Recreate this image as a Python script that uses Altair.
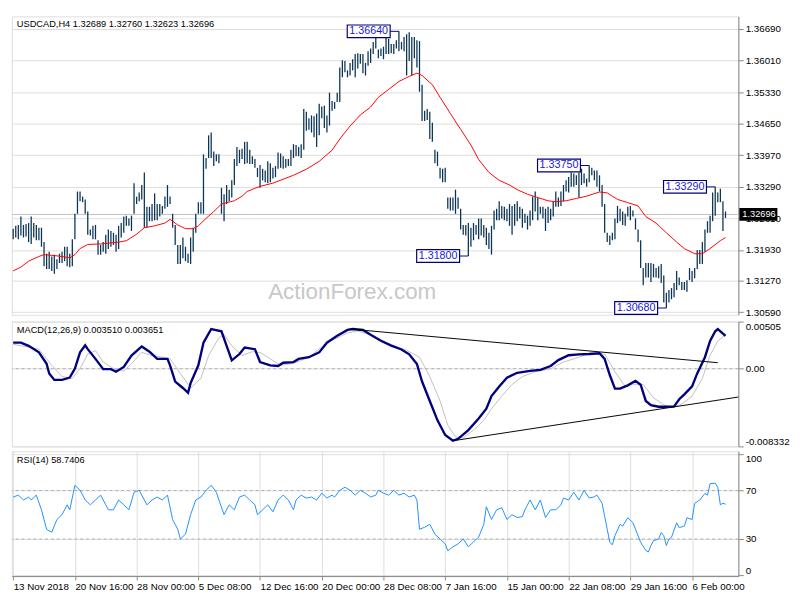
import json
import altair as alt
import pandas as pd

FONT = "Liberation Sans"
W, H1, H2, H3 = 745, 306, 128, 128

# ---------------- data ----------------
bar_high = [
    1.3239, 1.3245, 1.3247, 1.3265, 1.3247, 1.3249, 1.3251, 1.3265, 1.3251, 1.3247, 1.3241, 1.3241,
    1.3210, 1.3185, 1.3189, 1.3179, 1.3183, 1.3173, 1.3185, 1.3189, 1.3200, 1.3200, 1.3185, 1.3216,
    1.3271, 1.3319, 1.3319, 1.3308, 1.3302, 1.3276, 1.3237, 1.3245, 1.3247, 1.3214, 1.3204, 1.3210,
    1.3226, 1.3237, 1.3234, 1.3230, 1.3226, 1.3245, 1.3251, 1.3265, 1.3267, 1.3261, 1.3267, 1.3337,
    1.3308, 1.3317, 1.3333, 1.3360, 1.3286, 1.3286, 1.3292, 1.3315, 1.3292, 1.3292, 1.3288, 1.3308,
    1.3333, 1.3308, 1.3271, 1.3247, 1.3204, 1.3204, 1.3220, 1.3200, 1.3185, 1.3220, 1.3241, 1.3271,
    1.3296, 1.3296, 1.3399, 1.3391, 1.3440, 1.3446, 1.3405, 1.3399, 1.3399, 1.3327, 1.3313, 1.3333,
    1.3323, 1.3343, 1.3389, 1.3415, 1.3409, 1.3411, 1.3426, 1.3426, 1.3409, 1.3395, 1.3389, 1.3370,
    1.3376, 1.3368, 1.3364, 1.3384, 1.3380, 1.3370, 1.3374, 1.3403, 1.3401,
    1.3395, 1.3389, 1.3389, 1.3409, 1.3421, 1.3419, 1.3415, 1.3421, 1.3497, 1.3491, 1.3477, 1.3483,
    1.3481, 1.3487, 1.3508, 1.3502, 1.3504, 1.3483, 1.3532, 1.3514, 1.3512, 1.3532, 1.3586, 1.3602,
    1.3600, 1.3580, 1.3596, 1.3604, 1.3615, 1.3617, 1.3615,
    1.3615, 1.3596, 1.3621, 1.3627, 1.3641, 1.3652, 1.3625, 1.3627, 1.3631, 1.3652, 1.3648, 1.3637,
    1.3637, 1.3645, 1.3664, 1.3641, 1.3652, 1.3658, 1.3662, 1.3652,
    1.3652, 1.3645, 1.3643, 1.3549,
    1.3493, 1.3497, 1.3491, 1.3467, 1.3409, 1.3405, 1.3370, 1.3368, 1.3370, 1.3306, 1.3306, 1.3306,
    1.3323, 1.3306, 1.3282, 1.3247, 1.3247, 1.3251, 1.3241, 1.3251, 1.3247, 1.3261, 1.3261, 1.3247,
    1.3241, 1.3230, 1.3245, 1.3278, 1.3282, 1.3298, 1.3288, 1.3286, 1.3282, 1.3292, 1.3288, 1.3292,
    1.3298, 1.3286, 1.3282, 1.3271, 1.3267, 1.3278, 1.3308, 1.3319, 1.3306, 1.3286, 1.3286, 1.3282,
    1.3286, 1.3282, 1.3298, 1.3319, 1.3306, 1.3319, 1.3333, 1.3343, 1.3350, 1.3360, 1.3358, 1.3354,
    1.3360, 1.3368, 1.3358, 1.3347,
    1.3375, 1.3370, 1.3364, 1.3364, 1.3354, 1.3333, 1.3292, 1.3230, 1.3224, 1.3230, 1.3261, 1.3288,
    1.3282, 1.3276, 1.3271, 1.3286, 1.3288, 1.3278, 1.3261, 1.3237, 1.3214, 1.3154, 1.3165, 1.3165,
    1.3165, 1.3163, 1.3154, 1.3158, 1.3163, 1.3138, 1.3101, 1.3107, 1.3111, 1.3122, 1.3148, 1.3134,
    1.3124, 1.3124, 1.3128, 1.3154, 1.3148, 1.3154, 1.3193, 1.3193, 1.3210, 1.3237, 1.3255, 1.3267,
    1.3317, 1.3329, 1.3317, 1.3325, 1.3298, 1.3276,
]
bar_low = [
    1.3216, 1.3220, 1.3216, 1.3224, 1.3220, 1.3222, 1.3210, 1.3206, 1.3220, 1.3214, 1.3214, 1.3200,
    1.3158, 1.3152, 1.3152, 1.3148, 1.3142, 1.3152, 1.3165, 1.3165, 1.3169, 1.3158, 1.3156, 1.3158,
    1.3216, 1.3271, 1.3298, 1.3296, 1.3271, 1.3226, 1.3224, 1.3216, 1.3216, 1.3183, 1.3183, 1.3189,
    1.3185, 1.3195, 1.3200, 1.3204, 1.3189, 1.3195, 1.3220, 1.3230, 1.3245, 1.3245, 1.3234, 1.3271,
    1.3292, 1.3298, 1.3302, 1.3241, 1.3241, 1.3255, 1.3255, 1.3257, 1.3257, 1.3265, 1.3271, 1.3282,
    1.3286, 1.3292, 1.3241, 1.3204, 1.3163, 1.3163, 1.3175, 1.3169, 1.3165, 1.3163, 1.3189, 1.3230,
    1.3271, 1.3271, 1.3271, 1.3368, 1.3391, 1.3391, 1.3374, 1.3384, 1.3380, 1.3271, 1.3255, 1.3292,
    1.3298, 1.3306, 1.3333, 1.3374, 1.3380, 1.3389, 1.3378, 1.3380, 1.3378, 1.3378, 1.3370, 1.3350,
    1.3327, 1.3343, 1.3339, 1.3337, 1.3339, 1.3347, 1.3350, 1.3368, 1.3370,
    1.3368, 1.3370, 1.3374, 1.3374, 1.3391, 1.3395, 1.3395, 1.3391, 1.3409, 1.3450, 1.3452, 1.3446,
    1.3436, 1.3415, 1.3440, 1.3477, 1.3456, 1.3446, 1.3461, 1.3493, 1.3497, 1.3512, 1.3512, 1.3565,
    1.3576, 1.3565, 1.3569, 1.3580, 1.3565, 1.3584, 1.3594,
    1.3574, 1.3569, 1.3590, 1.3596, 1.3615, 1.3627, 1.3606, 1.3611, 1.3604, 1.3615, 1.3615, 1.3617,
    1.3615, 1.3627, 1.3621, 1.3625, 1.3621, 1.3569, 1.3600, 1.3569,
    1.3606, 1.3586, 1.3534, 1.3471,
    1.3471, 1.3473, 1.3432, 1.3426, 1.3380, 1.3374, 1.3347, 1.3339, 1.3339, 1.3282, 1.3278, 1.3278,
    1.3271, 1.3282, 1.3237, 1.3226, 1.3224, 1.3180, 1.3200, 1.3214, 1.3226, 1.3216, 1.3224, 1.3220,
    1.3204, 1.3195, 1.3183, 1.3237, 1.3257, 1.3257, 1.3261, 1.3257, 1.3255, 1.3245, 1.3226, 1.3245,
    1.3255, 1.3261, 1.3241, 1.3251, 1.3237, 1.3245, 1.3257, 1.3276, 1.3257, 1.3271, 1.3261, 1.3234,
    1.3251, 1.3257, 1.3265, 1.3286, 1.3286, 1.3288, 1.3298, 1.3319, 1.3317, 1.3329, 1.3329, 1.3333,
    1.3306, 1.3333, 1.3337, 1.3329,
    1.3339, 1.3354, 1.3343, 1.3329, 1.3319, 1.3286, 1.3230, 1.3210, 1.3204, 1.3214, 1.3216, 1.3251,
    1.3255, 1.3247, 1.3245, 1.3265, 1.3257, 1.3265, 1.3237, 1.3210, 1.3154, 1.3117, 1.3134, 1.3134,
    1.3124, 1.3134, 1.3134, 1.3132, 1.3122, 1.3080, 1.3068, 1.3080, 1.3087, 1.3091, 1.3107, 1.3117,
    1.3107, 1.3107, 1.3103, 1.3128, 1.3124, 1.3132, 1.3152, 1.3163, 1.3163, 1.3189, 1.3230, 1.3230,
    1.3255, 1.3267, 1.3296, 1.3296, 1.3234, 1.3262,
]

ma_idx = [0, 3, 6, 10, 12, 16, 19, 22, 24, 26, 29, 34, 41, 44, 48, 51, 55, 59, 61, 64,
          67, 70, 72, 75, 78, 81, 83, 86, 89, 91, 94, 96, 101, 109, 114, 119, 124, 127, 131, 135,
          139, 142, 146, 150, 154, 157, 159, 163, 166, 170, 174, 178, 181, 185, 189, 193, 196, 200, 204, 208,
          211, 215, 219, 223, 228, 231, 235, 239, 243, 246, 250, 254, 258, 261, 265, 268, 271, 275, 277]
ma_val = [1.3148, 1.3156, 1.3169, 1.3179, 1.3183, 1.3181, 1.3179, 1.3176, 1.3183, 1.3196,
          1.3205, 1.3206, 1.3210, 1.3213, 1.3227, 1.3241, 1.3245, 1.3251, 1.3259, 1.3247,
          1.3239, 1.3239, 1.3245, 1.3261, 1.3276, 1.3292, 1.3295, 1.3299, 1.3309, 1.3319,
          1.3326, 1.3330, 1.3337, 1.3354, 1.3367, 1.3384, 1.3408, 1.3432, 1.3460, 1.3484,
          1.3501, 1.3522, 1.3539, 1.3556, 1.3567, 1.3574, 1.3569, 1.3549, 1.3522, 1.3487,
          1.3453, 1.3419, 1.3388, 1.3360, 1.3343, 1.3333, 1.3323, 1.3313, 1.3306, 1.3299,
          1.3297, 1.3299, 1.3304, 1.3309, 1.3318, 1.3316, 1.3302, 1.3295, 1.3288, 1.3265,
          1.3251, 1.3230, 1.3210, 1.3196, 1.3185, 1.3185, 1.3196, 1.3213, 1.3220]

macd_idx = [0, 3, 6, 10, 13, 14, 16, 19, 22, 24, 26, 28, 29, 32, 35, 38, 40, 43, 46, 50,
            53, 56, 60, 61, 63, 66, 68, 69, 72, 74, 77, 81, 83, 85, 88, 90, 94, 96, 100, 103,
            105, 109, 111, 115, 119, 122, 126, 130, 132, 136, 139, 143, 147, 151, 154, 157, 159, 162, 165, 168,
            171, 173, 177, 181, 184, 186, 189, 192, 196, 201, 205, 209, 212, 216, 220, 224, 228, 230, 232, 234,
            236, 239, 242, 244, 246, 248, 251, 253, 257, 259, 261, 264, 266, 269, 271, 273, 274, 276, 277]
macd_val = [0.00279, 0.00279, 0.00245, 0.00175, 0.00053, -0.00051, -0.00120, -0.00120, -0.00096, 0.00001,
            0.00175, 0.00251, 0.00209, 0.00105, -0.00005, -0.00005, -0.00033, 0.00019, 0.00141, 0.00238,
            0.00182, 0.00105, 0.00105, 0.00036, -0.00138, -0.00207, -0.00259, -0.00155, 0.00036, 0.00279,
            0.00425, 0.00401, 0.00245, 0.00089, 0.00157, 0.00227, 0.00209, 0.00071, 0.00036, 0.00029,
            0.00064, 0.00071, 0.00105, 0.00123, 0.00175, 0.00279, 0.00352, 0.00415, 0.00425, 0.00415,
            0.00363, 0.00300, 0.00248, 0.00206, 0.00154, 0.00050, -0.00138, -0.00346, -0.00554, -0.00711,
            -0.00773, -0.00752, -0.00659, -0.00534, -0.00429, -0.00294, -0.00190, -0.00096, -0.00044, -0.00023,
            -0.00013, 0.00029, 0.00092, 0.00144, 0.00154, 0.00157, 0.00165, 0.00105, -0.00068, -0.00214,
            -0.00214, -0.00179, -0.00130, -0.00172, -0.00346, -0.00391, -0.00408, -0.00408, -0.00405, -0.00328,
            -0.00276, -0.00190, -0.00051, 0.00123, 0.00297, 0.00401, 0.00425, 0.00376, 0.00351]

signal_idx = [0, 10, 15, 19, 23, 26, 29, 32, 35, 39, 43, 46, 50, 54, 58, 61, 65, 69, 73, 76,
              80, 82, 85, 89, 93, 96, 100, 104, 108, 111, 115, 122, 130, 134, 139, 145, 153, 158, 162, 166,
              169, 172, 175, 179, 183, 186, 190, 194, 198, 203, 209, 214, 220, 224, 230, 234, 238, 241, 245, 249,
              253, 256, 260, 264, 268, 271, 274, 277]
signal_val = [0.00262, 0.00209, 0.00036, -0.00085, -0.00103, 0.00001, 0.00157, 0.00193, 0.00071, 0.00001,
              -0.00026, 0.00053, 0.00175, 0.00141, 0.00123, 0.00105, -0.00051, -0.00207, -0.00103, 0.00141,
              0.00331, 0.00366, 0.00245, 0.00141, 0.00182, 0.00175, 0.00105, 0.00036, 0.00053, 0.00078,
              0.00123, 0.00279, 0.00383, 0.00404, 0.00363, 0.00279, 0.00196, 0.00123, -0.00085, -0.00346,
              -0.00606, -0.00731, -0.00742, -0.00659, -0.00554, -0.00429, -0.00294, -0.00169, -0.00085, -0.00033,
              -0.00002, 0.00071, 0.00123, 0.00165, 0.00157, -0.00033, -0.00190, -0.00166, -0.00172, -0.00312,
              -0.00388, -0.00416, -0.00380, -0.00294, -0.00103, 0.00141, 0.00297, 0.003651]

trend_idx = [131, 274, 171, 282]
trend_val = [0.00425, 0.00064, -0.00773, -0.00304]
trend_id = ["upper", "upper", "lower", "lower"]

rsi_idx = [0, 2, 4, 6, 7, 9, 11, 13, 15, 17, 19, 21, 22, 24, 26, 28, 30, 32, 34, 36,
           37, 39, 41, 43, 45, 47, 49, 51, 52, 54, 56, 58, 60, 62, 64, 65, 67, 69, 71, 73,
           75, 77, 79, 80, 82, 84, 86, 88, 90, 92, 94, 95, 97, 99, 101, 103, 105, 107, 109, 110,
           112, 114, 116, 118, 120, 122, 124, 125, 127, 129, 131, 133, 135, 137, 139, 141, 142, 144, 146, 148,
           150, 152, 154, 156, 157, 158, 160, 162, 164, 166, 168, 169, 171, 173, 175, 177, 179, 181, 183, 184,
           186, 188, 190, 192, 194, 196, 198, 199, 201, 203, 205, 207, 209, 211, 213, 214, 216, 218, 220, 222,
           224, 226, 227, 229, 230, 231, 232, 233, 234, 236, 237, 239, 241, 242, 244, 246, 247, 248, 249, 251,
           252, 253, 254, 255, 256, 258, 259, 261, 262, 264, 265, 267, 269, 270, 271, 273, 274, 275, 276, 277]
rsi_val = [64.6, 66.2, 62.2, 64.6, 62.2, 66.2, 54.1, 38.0, 35.6, 46.1,
           50.1, 58.2, 54.1, 74.3, 70.2, 62.2, 58.2, 62.2, 66.2, 58.2,
           54.1, 54.1, 62.2, 58.2, 54.1, 68.6, 70.2, 62.2, 58.2, 62.2,
           64.6, 62.2, 66.2, 46.1, 38.0, 30.0, 34.0, 50.1, 62.2, 64.6,
           70.2, 74.3, 68.6, 62.2, 50.1, 58.2, 54.1, 64.6, 66.2, 62.2,
           58.2, 50.1, 54.1, 58.2, 52.5, 62.2, 66.2, 62.2, 54.1, 62.2,
           66.2, 63.8, 64.6, 62.2, 67.8, 63.8, 66.2, 64.6, 70.2, 72.7,
           70.2, 66.2, 70.2, 67.8, 64.6, 66.2, 70.2, 67.8, 66.2, 70.2,
           66.2, 67.8, 64.6, 66.2, 62.2, 38.0, 39.7, 42.1, 34.0, 30.0,
           26.0, 20.3, 23.6, 26.0, 30.0, 23.6, 27.6, 31.6, 42.1, 56.6,
           46.1, 54.1, 55.8, 46.1, 50.1, 47.7, 48.5, 54.1, 62.2, 54.1,
           62.2, 47.7, 54.1, 54.1, 58.2, 63.8, 62.2, 68.6, 62.2, 70.2,
           63.8, 64.8, 66.2, 59.5, 48.8, 38.0, 27.3, 25.2, 32.7, 42.1,
           40.7, 47.5, 43.4, 38.0, 27.3, 20.6, 19.3, 24.6, 28.6, 30.0,
           35.4, 32.7, 24.6, 30.0, 31.4, 43.4, 39.4, 40.7, 47.5, 46.1,
           59.5, 62.2, 67.6, 66.2, 75.6, 76.1, 72.7, 58.2, 59.5, 58.7406]

ann_idx = [150, 224, 273, 177, 254]
ann_price = [1.3664, 1.3375, 1.3329, 1.3180, 1.3068]
ann_label = ["1.36640", "1.33750", "1.33290", "1.31800", "1.30680"]

last_price = 1.32696
last_label = "1.32696"
price_ticks = [1.30590, 1.31270, 1.31930, 1.32610, 1.33290, 1.33970, 1.34650, 1.35330, 1.36010, 1.36690]
macd_ticks = [-0.008332, 0.0, 0.00505]
macd_tick_labels = ["-0.008332", "0.00", "0.00505"]
rsi_ticks = [0, 30, 70, 100]
rsi_levels = [30, 70]
time_idx = [0, 24, 48, 72, 96, 120, 144, 168, 192, 216, 240, 264]
time_labels = ["13 Nov 2018", "20 Nov 16:00", "28 Nov 00:00", "5 Dec 08:00", "12 Dec 16:00",
               "20 Dec 00:00", "28 Dec 08:00", "7 Jan 16:00", "15 Jan 00:00", "22 Jan 08:00",
               "29 Jan 16:00", "6 Feb 00:00"]

price_title = "USDCAD,H4  1.32689 1.32760 1.32623 1.32696"
macd_title = "MACD(12,26,9) 0.003510 0.003651"
rsi_title = "RSI(14) 58.7406"
watermark = "ActionForex.com"

# ---------------- frames ----------------
bars_df = pd.DataFrame({"i": list(range(len(bar_high))), "high": bar_high, "low": bar_low})
ma_df = pd.DataFrame({"i": ma_idx, "v": ma_val})
macd_df = pd.DataFrame({"i": macd_idx, "v": macd_val})
sig_df = pd.DataFrame({"i": signal_idx, "v": signal_val})
trend_df = pd.DataFrame({"i": trend_idx, "v": trend_val, "g": trend_id})
rsi_df = pd.DataFrame({"i": rsi_idx, "v": rsi_val})
ann_df = pd.DataFrame({"i": ann_idx, "p": ann_price, "t": ann_label})
last_df = pd.DataFrame({"p": [last_price], "t": [last_label]})

xscale = alt.Scale(domain=[-0.5, 282], nice=False, zero=False)
xnone = alt.X("i:Q", scale=xscale, axis=None)

# ---------------- price panel ----------------
pscale = alt.Scale(domain=[1.30535, 1.36963], nice=False, zero=False)
paxis = alt.Axis(orient="right", values=price_ticks, format=".5f", title=None, labelOverlap=False,
                 tickCount=len(price_ticks) + 2)

last_line = alt.Chart(last_df).mark_rule(color="#c0c0c0", strokeWidth=1).encode(
    y=alt.Y("p:Q", scale=pscale, axis=paxis))
bars = alt.Chart(bars_df).mark_rule(color="#0b3454", strokeWidth=1.3).encode(
    x=xnone, y=alt.Y("low:Q", scale=pscale), y2="high:Q")
ma = alt.Chart(ma_df).mark_line(color="#ff0000", strokeWidth=1).encode(
    x=xnone, y=alt.Y("v:Q", scale=pscale))
conn = alt.Chart(ann_df).mark_rule(color="#000080", strokeWidth=1, xOffset=-9).encode(
    x=xnone, x2="i:Q", y=alt.Y("p:Q", scale=pscale))
box = alt.Chart(ann_df).mark_rect(fill="white", stroke="#000080", strokeWidth=1.2,
                                  xOffset=-53, x2Offset=-9, yOffset=-6.5, y2Offset=6.5).encode(
    x=xnone, x2="i:Q", y=alt.Y("p:Q", scale=pscale), y2="p:Q")
box_txt = alt.Chart(ann_df).mark_text(color="#1a1ad0", fontSize=11, font=FONT, xOffset=-31,
                                      align="center", baseline="middle").encode(
    x=xnone, y=alt.Y("p:Q", scale=pscale), text="t:N")
last_box = alt.Chart(last_df).mark_rect(color="black", yOffset=-6.5, y2Offset=6.5).encode(
    x=alt.value(W + 1), x2=alt.value(W + 40), y=alt.Y("p:Q", scale=pscale), y2="p:Q")
last_txt = alt.Chart(last_df).mark_text(color="white", fontSize=9.5, font=FONT, align="left",
                                        baseline="middle").encode(
    x=alt.value(W + 4), y=alt.Y("p:Q", scale=pscale), text="t:N")
ptitle = alt.Chart(pd.DataFrame({"t": [price_title]})).mark_text(
    align="left", baseline="middle", fontSize=9.5, font=FONT, color="black").encode(
    x=alt.value(5), y=alt.value(8), text="t:N")
wm = alt.Chart(pd.DataFrame({"t": [watermark]})).mark_text(
    align="center", baseline="middle", fontSize=23, font=FONT, color="#c8c8c8").encode(
    x=alt.value(349), y=alt.value(283), text="t:N")

price_panel = alt.layer(last_line, wm, bars, ma, conn, box, box_txt, last_box, last_txt, ptitle).properties(
    width=W, height=H1)

# ---------------- MACD panel ----------------
mscale = alt.Scale(domain=[-0.008332, 0.00505], nice=False, zero=False)
mexpr = "''"
for v, lab in zip(macd_ticks, macd_tick_labels):
    mexpr = f"abs(datum.value - ({v})) < 1e-9 ? '{lab}' : " + mexpr
maxis = alt.Axis(orient="right", values=macd_ticks, labelExpr=mexpr, title=None, labelFlush=2,
                 labelOverlap=False, tickCount=6)

mzero = alt.Chart(pd.DataFrame({"v": [0.0]})).mark_rule(color="#b0b0b0", strokeDash=[3, 3]).encode(
    y=alt.Y("v:Q", scale=mscale, axis=maxis))
msig = alt.Chart(sig_df).mark_line(color="#c0c0c0", strokeWidth=1).encode(
    x=xnone, y=alt.Y("v:Q", scale=mscale))
mline = alt.Chart(macd_df).mark_line(color="#000080", strokeWidth=2.4).encode(
    x=xnone, y=alt.Y("v:Q", scale=mscale))
mtrend = alt.Chart(trend_df).mark_line(color="black", strokeWidth=1).encode(
    x=xnone, y=alt.Y("v:Q", scale=mscale), detail="g:N")
mtitle = alt.Chart(pd.DataFrame({"t": [macd_title]})).mark_text(
    align="left", baseline="middle", fontSize=9.5, font=FONT, color="black").encode(
    x=alt.value(5), y=alt.value(9), text="t:N")
macd_panel = alt.layer(mzero, msig, mline, mtrend, mtitle).properties(width=W, height=H2)

# ---------------- RSI panel ----------------
rscale = alt.Scale(domain=[-0.6, 102.4], nice=False, zero=False)
raxis = alt.Axis(orient="right", values=rsi_ticks, format="d", title=None, labelFlush=6,
                 labelOverlap=False, tickCount=8)
texpr = f"{json.dumps(time_labels)}[indexof({json.dumps(time_idx)}, datum.value)]"
xaxis = alt.Axis(values=time_idx, labelExpr=texpr, labelAlign="left", labelPadding=2,
                 tickSize=4, title=None, labelOverlap=False, labelFlush=False, labelBound=False,
                 tickCount=len(time_idx) + 2)

rlev = alt.Chart(pd.DataFrame({"v": rsi_levels})).mark_rule(color="#b0b0b0", strokeDash=[3, 3]).encode(
    y=alt.Y("v:Q", scale=rscale, axis=raxis))
rline = alt.Chart(rsi_df).mark_line(color="#1e90ff", strokeWidth=1).encode(
    x=alt.X("i:Q", scale=xscale, axis=xaxis), y=alt.Y("v:Q", scale=rscale))
rtitle = alt.Chart(pd.DataFrame({"t": [rsi_title]})).mark_text(
    align="left", baseline="middle", fontSize=9.5, font=FONT, color="black").encode(
    x=alt.value(5), y=alt.value(9), text="t:N")
rsi_panel = alt.layer(rlev, rline, rtitle).properties(width=W, height=H3)

chart = alt.vconcat(price_panel, macd_panel, rsi_panel, spacing=3).properties(
    padding={"left": 0, "top": 0, "right": 2, "bottom": 2}
).configure_view(stroke="black", strokeWidth=1).configure_axis(
    labelFont=FONT, labelFontSize=9.5, labelColor="black", domainColor="black", tickColor="black",
    tickSize=4, grid=False, labelPadding=2, labelOverlap=False
).configure(background="white")

chart.save("out.html", embed_options={"renderer": "svg", "actions": False})
